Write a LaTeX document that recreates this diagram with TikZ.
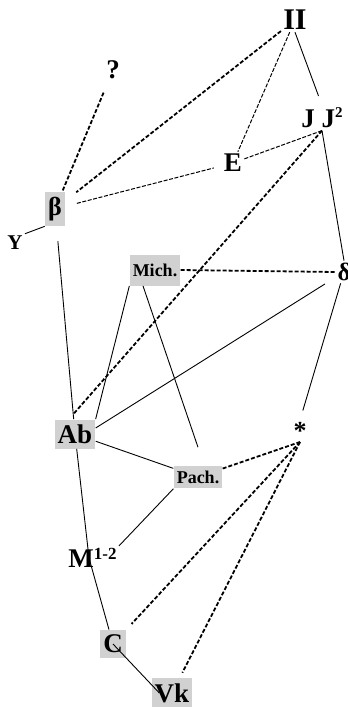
\documentclass[tikz,border=0pt]{standalone}
\usepackage{fontspec}
\setmainfont{Liberation Serif}
\begin{document}
\begin{tikzpicture}[x=0.5pt,y=-0.5pt,
  lbl/.style={font=\bfseries\fontsize{13.5}{16}\selectfont,inner sep=1pt},
  box/.style={lbl,fill=black!18,inner xsep=1.5pt,inner ysep=2.5pt},
  small/.style={font=\bfseries\fontsize{9}{11}\selectfont},
  link/.style={line width=0.45pt},
  weak/.style={line width=0.5pt,dash pattern=on 2pt off 0.8pt},
  strong/.style={line width=0.9pt,dash pattern=on 2pt off 1pt}]
  \useasboundingbox (0,0) rectangle (348,707);

  \node[lbl,font=\bfseries\fontsize{15}{18}\selectfont] (Pi) at (295,20) {II};
  \node[lbl] (q) at (113,70) {?};
  \node[lbl] (JJ) at (322,118) {J J\raisebox{0.38em}{\fontsize{7.5}{9}\selectfont 2}};
  \node[lbl] (E) at (233,163) {E};
  \node[box,font=\bfseries\fontsize{13}{16}\selectfont] (beta) at (55,209) {β};
  \node[lbl,font=\bfseries\fontsize{10.5}{12}\selectfont] (Y) at (15,243) {Y};
  \node[box,small,minimum height=15.5pt] (Mich) at (155,270) {Mich.};
  \node[lbl,font=\bfseries\fontsize{12.5}{15}\selectfont] (delta) at (344,272) {δ};
  \node[box] (Ab) at (75,434) {Ab};
  \node[lbl,font=\bfseries\fontsize{13}{16}\selectfont,anchor=south] (star) at (300,442) {*};
  \node[box,small] (Pach) at (198,477) {Pach.};
  \node[lbl,anchor=west] (M) at (66,558) {M\raisebox{0.3em}{\fontsize{8.5}{10}\selectfont 1-2}};
  \node[box] (C) at (113,644) {C};
  \node[box] (Vk) at (172,693) {Vk};
  \coordinate (mbend) at (89,558);

  % heavy dashed
  \draw[strong,shorten >=7pt] (Pi) -- (beta);
  \draw[strong,shorten <=6pt] (q) -- (beta);
  \draw[strong,shorten >=3pt] (JJ.south) -- ([xshift=-3pt]Ab.north);
  \draw[strong] (Mich.east) -- (delta.west);
  \draw[strong] (Pach) -- (star.south);
  \draw[strong,shorten >=4pt] (star.south) -- (C);
  \draw[strong,shorten >=3pt] (star.south) -- (Vk);

  % light dashed
  \draw[weak,shorten <=6pt,shorten >=4pt] (beta) -- (E);
  \draw[weak] (Pi) -- (E);
  \draw[weak] (E) -- (JJ.south);

  % solid
  \draw[link,shorten >=5pt] (Pi.south) -- (JJ.north);
  \draw[link] (JJ.south) -- (delta.north);
  \draw[link] (Y.north east) -- (beta.south west);
  \draw[link,shorten <=7.5pt] (beta) -- (Ab);
  \draw[link] (Ab) -- (mbend) -- (C);
  \draw[link] (Mich.south west) -- (Ab.north east);
  \draw[link] ([xshift=-6pt]Mich.south) -- ([yshift=9pt]Pach.north);
  \draw[link,shorten <=6pt] (delta) -- ([yshift=3pt]Ab.east);
  \draw[link,shorten >=5pt] (delta) -- (star.north);
  \draw[link] (Ab) -- (Pach);
  \draw[link] (Pach.south west) -- (M.north east);
  \draw[link] (C.center) -- ([xshift=4pt]Vk.west);
\end{tikzpicture}
\end{document}
